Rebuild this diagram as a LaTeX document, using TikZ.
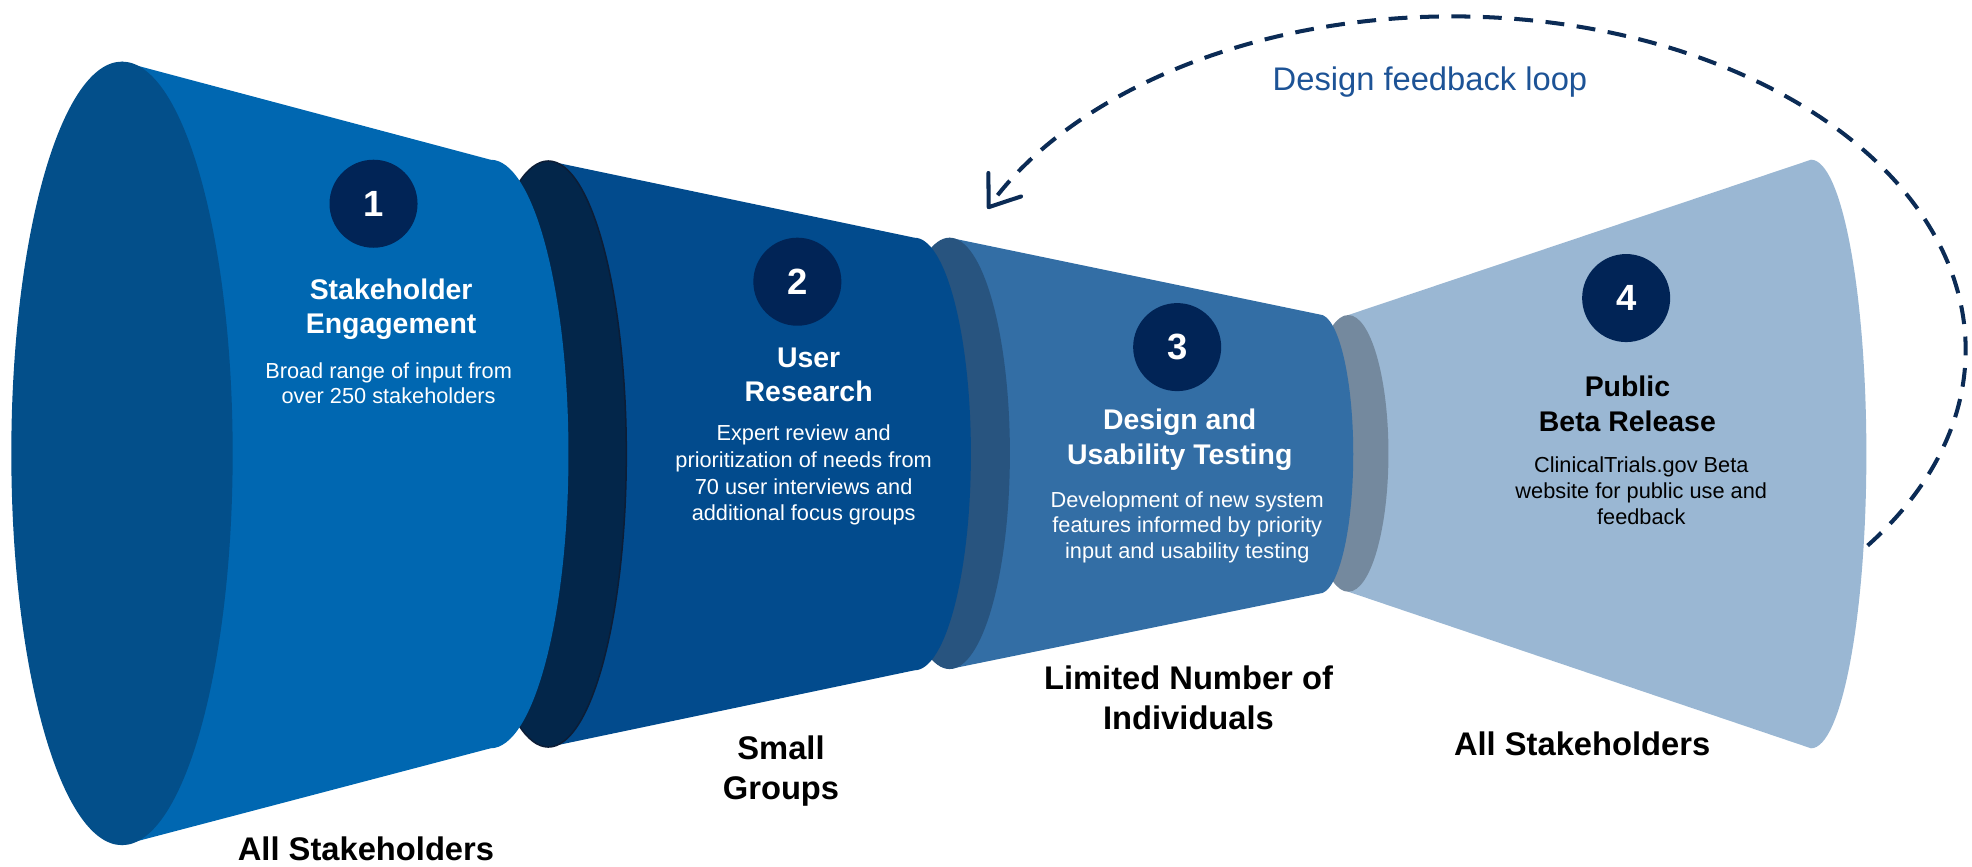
\documentclass[tikz,border=0pt]{standalone}
\usepackage{fontspec}
\setmainfont{Liberation Sans}
\usetikzlibrary{arrows.meta}
\definecolor{fOneBody}{HTML}{0067B1}
\definecolor{fOneFace}{HTML}{034F8A}
\definecolor{fTwoBody}{HTML}{024B8D}
\definecolor{fTwoFace}{HTML}{03264A}
\definecolor{fTwoEdge}{HTML}{0C1D36}
\definecolor{fThreeBody}{HTML}{336EA5}
\definecolor{fThreeFace}{HTML}{28547F}
\definecolor{fFourBody}{HTML}{9AB7D3}
\definecolor{fFourFace}{HTML}{74899E}
\definecolor{circ}{HTML}{012456}
\definecolor{loopcol}{HTML}{0B2B55}
\definecolor{looptext}{HTML}{1D5396}
\begin{document}
\begin{tikzpicture}[x=0.5pt,y=-0.5pt,
  numcirc/.style={circle, fill=circ, minimum size=35pt, inner sep=0pt, text=white,
    font=\fontsize{14.5}{14.5}\selectfont\bfseries},
  ttl/.style={anchor=base, inner sep=0pt, font=\fontsize{11.3}{13}\selectfont\bfseries},
  bodytxt/.style={anchor=base, inner sep=0pt, font=\fontsize{8.65}{10}\selectfont},
  lbl/.style={anchor=base, inner sep=0pt, font=\fontsize{13}{15}\selectfont\bfseries},
  loopline/.style={draw=loopcol, line width=1.6pt, dash pattern=on 7.5pt off 5pt,
    -{Straight Barb[length=11pt,width=16pt,round]}},
]
\useasboundingbox (0,0) rectangle (1568,689);

% Funnel 4 (widening, light)
\fill[fFourBody] (1072,250.5) -- (1440,127)
  arc[start angle=90, end angle=-90, x radius=22pt, y radius=117pt]
  -- (1072,470.5) -- cycle;
\fill[fFourFace] (1072,360.5) ellipse [x radius=16pt, y radius=55pt];

% Funnel 3
\fill[fThreeBody] (755,189) -- (1049,250)
  arc[start angle=90, end angle=-90, x radius=13.5pt, y radius=55.5pt]
  -- (755,532) -- cycle;
\fill[fThreeFace] (755,360.5) ellipse [x radius=24pt, y radius=85.75pt];

% Funnel 2
\fill[fTwoBody] (436,128) -- (727,189)
  arc[start angle=90, end angle=-90, x radius=22.5pt, y radius=86pt]
  -- (436,594) -- cycle;
\filldraw[fill=fTwoFace, draw=fTwoEdge, line width=0.6pt] (436,361) ellipse [x radius=31pt, y radius=116.5pt];

% Funnel 1
\fill[fOneBody] (97,49) -- (390,127)
  arc[start angle=90, end angle=-90, x radius=31pt, y radius=117pt]
  -- (97,672) -- cycle;
\fill[fOneFace] (97,360.5) ellipse [x radius=44pt, y radius=155.75pt];

% Step 1
\node[numcirc] (n1) at (297,162) {1};
\node[ttl,text=white] (t1a) at (311,238) {Stakeholder};
\node[ttl,text=white] (t1b) at (311,265) {Engagement};
\node[bodytxt,text=white] (b1a) at (309,301) {Broad range of input from};
\node[bodytxt,text=white] (b1b) at (309,321) {over 250 stakeholders};

% Step 2
\node[numcirc] (n2) at (634,224) {2};
\node[ttl,text=white] (t2a) at (643,292) {User};
\node[ttl,text=white] (t2b) at (643,319) {Research};
\node[bodytxt,text=white] (b2a) at (639,350.5) {Expert review and};
\node[bodytxt,text=white] (b2b) at (639,372) {prioritization of needs from};
\node[bodytxt,text=white] (b2c) at (639,393) {70 user interviews and};
\node[bodytxt,text=white] (b2d) at (639,414) {additional focus groups};

% Step 3
\node[numcirc] (n3) at (936,276) {3};
\node[ttl,text=white] (t3a) at (938,341.4) {Design and};
\node[ttl,text=white] (t3b) at (938,369) {Usability Testing};
\node[bodytxt,text=white] (b3a) at (944,403.7) {Development of new system};
\node[bodytxt,text=white] (b3b) at (944,423.5) {features informed by priority};
\node[bodytxt,text=white] (b3c) at (944,444) {input and usability testing};

% Step 4
\node[numcirc] (n4) at (1293,237) {4};
\node[ttl,text=black] (t4a) at (1294,315.4) {Public};
\node[ttl,text=black] (t4b) at (1294,343.2) {Beta Release};
\node[bodytxt,text=black] (b4a) at (1305,375.8) {ClinicalTrials.gov Beta};
\node[bodytxt,text=black] (b4b) at (1305,396.2) {website for public use and};
\node[bodytxt,text=black] (b4c) at (1305,417) {feedback};

% Bottom labels
\node[lbl] (l1) at (291,684) {All Stakeholders};
\node[lbl] (l2a) at (621,604) {Small};
\node[lbl] (l2b) at (621,636) {Groups};
\node[lbl] (l3a) at (945,548) {Limited Number of};
\node[lbl] (l3b) at (945,580) {Individuals};
\node[lbl] (l4) at (1258,601) {All Stakeholders};

% Feedback loop
\node[anchor=base, inner sep=0pt, text=looptext, font=\fontsize{13}{15}\selectfont] (fbl) at (1137,72) {Design feedback loop};
\coordinate (loopstart) at (1485,433.8);
\draw[loopline] (loopstart) arc[start angle=-36, end angle=155, x radius=204pt, y radius=132.5pt];
\end{tikzpicture}
\end{document}
